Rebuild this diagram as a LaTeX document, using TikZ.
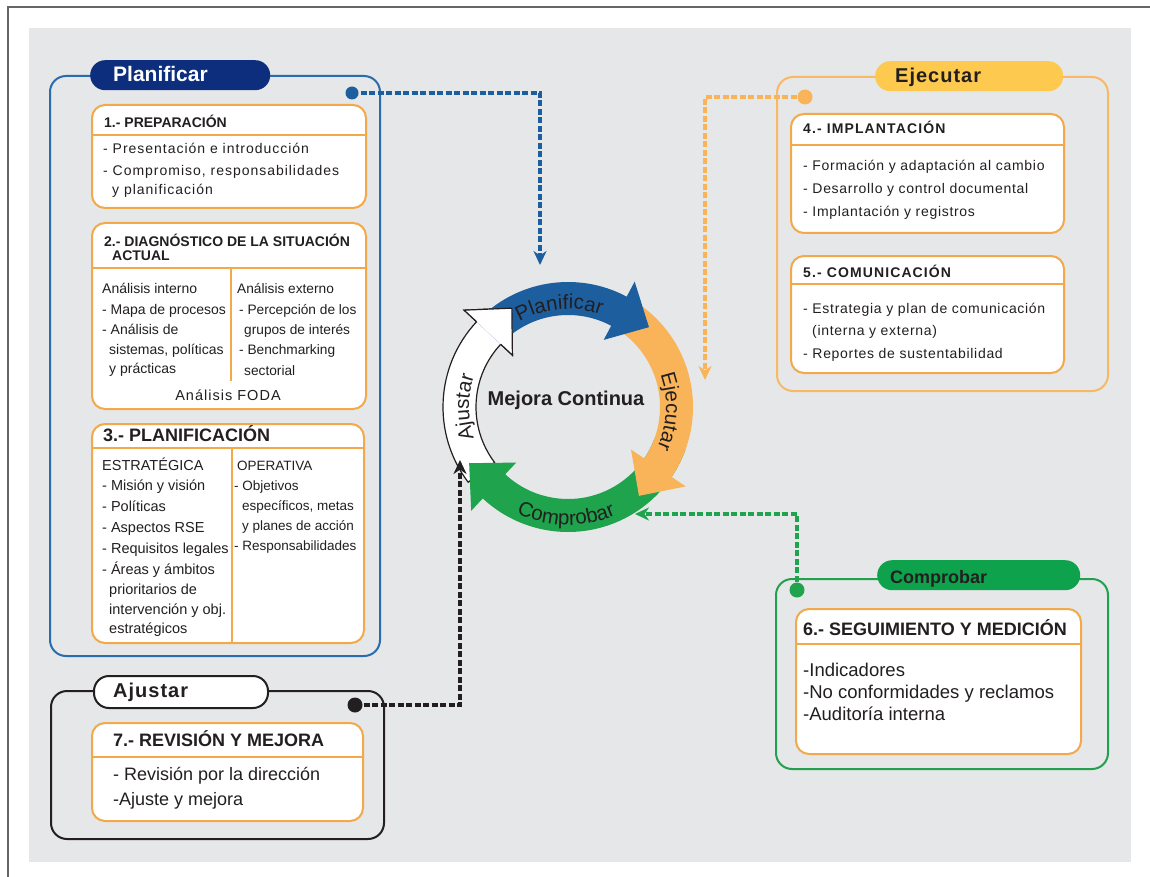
\documentclass[tikz,border=0pt]{standalone}
\usepackage{fontspec}
\setmainfont{Liberation Sans}
\newfontfamily\lspA[LetterSpace=7]{Liberation Sans}
\newfontfamily\lspB[LetterSpace=5]{Liberation Sans}
\newfontfamily\lspC[LetterSpace=8]{Liberation Sans}
\newfontfamily\arcfam[LetterSpace=10]{Liberation Sans}
\usetikzlibrary{arrows.meta,calc,decorations.text}
\newcommand{\fsz}[1]{\fontsize{#1}{#1}\selectfont}
\definecolor{bgc}{HTML}{E6E7E9}
\definecolor{framec}{HTML}{666666}
\definecolor{planblue}{HTML}{2A6DAE}
\definecolor{navy}{HTML}{0C2E7C}
\definecolor{cycblue}{HTML}{1D5E9E}
\definecolor{boxor}{HTML}{F3A84A}
\definecolor{ejor}{HTML}{F8B866}
\definecolor{ejpill}{HTML}{FDC94E}
\definecolor{cycor}{HTML}{F9B459}
\definecolor{grn}{HTML}{23A04D}
\definecolor{grnpill}{HTML}{0DA24B}
\definecolor{cycgrn}{HTML}{1FA34C}
\definecolor{txt}{HTML}{231F20}
\newcommand{\cycarrow}[3]{%
  \path[#3] (#1:125) arc[start angle=#1, end angle=#2, radius=125] -- (#2:142)
    -- ($(#2:108.5)+(#2-90:34)$) -- (#2:76) -- (#2:92)
    arc[start angle=#2, end angle=#1, radius=92] -- cycle;}
\begin{document}
\begin{tikzpicture}[x=1pt,y=1pt,
  bx/.style={draw=boxor, line width=2pt, fill=white, rounded corners=13pt, anchor=north west, inner sep=0pt},
  obx/.style={line width=2pt, rounded corners=16pt, anchor=north west, inner sep=0pt},
  pill/.style={rounded corners=15pt, anchor=north west, inner sep=0pt},
  tl/.style={anchor=base west, inner sep=0pt, text=txt},
  hdA/.style={tl, font=\bfseries\fsz{14}},
  hdB/.style={tl, font=\lspC\bfseries\fsz{14}},
  hdC/.style={tl, font=\bfseries\fsz{18}},
  bodyA/.style={tl, font=\lspA\fsz{14}},
  bodyB/.style={tl, font=\lspB\fsz{14}},
  colA/.style={tl, font=\fsz{14}},
  colB/.style={tl, font=\fsz{13.7}},
  colC/.style={tl, font=\fsz{14.5}},
  colD/.style={tl, font=\fsz{13.5}},
  bigbody/.style={tl, font=\fsz{18.5}},
  divl/.style={draw=boxor, line width=1.5pt},
  conn/.style={dash pattern=on 6pt off 2.5pt, -{Stealth[length=14pt,width=13pt,inset=4.5pt]}},
  arclab/.style={decorate, decoration={text along path, text align=center, text color=txt}}
]
\useasboundingbox (0,0) rectangle (1150,-877);
\fill[bgc] (29,-28) rectangle (1131,-862);
\draw[framec, line width=1.5pt] (8,-877) -- (8,-7) -- (1150,-7);

% ---------- Planificar group ----------
\node[obx, draw=planblue, minimum width=330pt, minimum height=580pt] (pbox) at (49,-75) {};
\node[pill, fill=navy, minimum width=180pt, minimum height=30pt] (ppill) at (90,-60) {};
\node[tl, text=white, font=\bfseries\fsz{21}] (ptitle) at (113,-82) {Planificar};

\node[bx, minimum width=274pt, minimum height=103pt] (b1) at (91,-104) {};
\draw[divl] (91,-135) -- (365,-135);
\node[hdA] (h1) at (104,-128) {1.- PREPARACIÓN};
\foreach \xx/\yy/\tx [count=\i] in {103/154/{- Presentación e introducción},
   103/176/{- Compromiso, responsabilidades}, 112/195/{y planificación}}
  \node[bodyA] (b1l\i) at (\xx,-\yy) {\tx};

\node[bx, minimum width=274pt, minimum height=186pt] (b2) at (91,-222) {};
\draw[divl] (91,-268) -- (365,-268);
\draw[divl] (231,-268) -- (231,-381);
\node[hdA] (h2a) at (104,-247) {2.- DIAGNÓSTICO DE LA SITUACIÓN};
\node[hdA] (h2b) at (112,-261) {ACTUAL};
\foreach \xx/\yy/\tx [count=\i] in {102/293/{Análisis interno}, 102/314/{- Mapa de procesos},
   102/334/{- Análisis de}, 109/354/{sistemas, políticas}, 109/373/{y prácticas}}
  \node[colA] (b2l\i) at (\xx,-\yy) {\tx};
\foreach \xx/\yy/\tx [count=\i] in {237/293/{Análisis externo}, 239/314/{- Percepción de los},
   244/334/{grupos de interés}, 239/354/{- Benchmarking}, 244/375/{sectorial}}
  \node[colB] (b2r\i) at (\xx,-\yy) {\tx};
\node[anchor=base, inner sep=0pt, text=txt, font=\lspA\fsz{14.5}] (foda) at (228,-400) {Análisis FODA};

\node[bx, minimum width=272pt, minimum height=219pt] (b3) at (91,-423) {};
\draw[divl] (91,-448) -- (365,-448);
\draw[divl] (232,-448) -- (232,-642);
\node[hdC] (h3) at (103,-441) {3.- PLANIFICACIÓN};
\foreach \xx/\yy/\tx [count=\i] in {102/470/{ESTRATÉGICA}, 102/490/{- Misión y visión},
   102/511/{- Políticas}, 102/532/{- Aspectos RSE}, 102/553/{- Requisitos legales},
   102/574/{- Áreas y ámbitos}, 109/594/{prioritarios de}, 109/614/{intervención y obj.},
   109/633/{estratégicos}}
  \node[colC] (b3l\i) at (\xx,-\yy) {\tx};
\foreach \xx/\yy/\tx [count=\i] in {237/470/{OPERATIVA}, 234/490/{- Objetivos},
   242/510/{específicos, metas}, 242/530/{y planes de acción}, 234/550/{- Responsabilidades}}
  \node[colD] (b3r\i) at (\xx,-\yy) {\tx};

% ---------- Ejecutar group ----------
\node[obx, draw=ejor, minimum width=331pt, minimum height=314pt] (ebox) at (776,-76) {};
\node[pill, fill=ejpill, minimum width=188pt, minimum height=30pt] (epill) at (875,-61) {};
\node[tl, font=\lspB\bfseries\fsz{20}] (etitle) at (895,-83) {Ejecutar};

\node[bx, minimum width=273pt, minimum height=119pt] (b4) at (790,-113) {};
\draw[divl] (790,-145) -- (1063,-145);
\node[hdB] (h4) at (803,-134) {4.- IMPLANTACIÓN};
\foreach \xx/\yy/\tx [count=\i] in {803/171/{- Formación y adaptación al cambio},
   803/194/{- Desarrollo y control documental}, 803/217/{- Implantación y registros}}
  \node[bodyB] (b4l\i) at (\xx,-\yy) {\tx};

\node[bx, minimum width=273pt, minimum height=117pt] (b5) at (790,-255) {};
\draw[divl] (790,-284) -- (1063,-284);
\node[hdB] (h5) at (803,-277) {5.- COMUNICACIÓN};
\foreach \xx/\yy/\tx [count=\i] in {803/313/{- Estrategia y plan de comunicación},
   812/335/{(interna y externa)}, 803/358/{- Reportes de sustentabilidad}}
  \node[bodyB] (b5l\i) at (\xx,-\yy) {\tx};

% ---------- Comprobar group ----------
\node[obx, draw=grn, minimum width=332pt, minimum height=190pt] (cbox) at (775,-578) {};
\node[pill, fill=grnpill, minimum width=203pt, minimum height=30pt] (cpill) at (877,-560) {};
\node[tl, font=\bfseries\fsz{18}] (ctitle) at (890,-583) {Comprobar};

\node[bx, minimum width=285pt, minimum height=145pt] (b6) at (795,-608) {};
\draw[divl] (795,-644) -- (1082,-644);
\node[hdC] (h6) at (803,-635) {6.- SEGUIMIENTO Y MEDICIÓN};
\foreach \xx/\yy/\tx [count=\i] in {803/676/{-Indicadores},
   803/698/{-No conformidades y reclamos}, 803/720/{-Auditoría interna}}
  \node[bigbody] (b6l\i) at (\xx,-\yy) {\tx};

% ---------- Ajustar group ----------
\node[obx, draw=txt, minimum width=333pt, minimum height=148pt] (abox) at (50,-690) {};
\node[pill, fill=white, draw=txt, line width=2pt, minimum width=174pt, minimum height=32pt] (apill) at (93,-675) {};
\node[tl, font=\lspB\bfseries\fsz{20}] (atitle) at (113,-697) {Ajustar};

\node[bx, minimum width=271pt, minimum height=98pt] (b7) at (91,-722) {};
\draw[divl] (91,-757) -- (362,-757);
\node[hdC] (h7) at (113,-746) {7.- REVISIÓN Y MEJORA};
\foreach \xx/\yy/\tx [count=\i] in {113/780/{- Revisión por la dirección}, 113/805/{-Ajuste y mejora}}
  \node[tl, font=\fsz{18}] (b7l\i) at (\xx,-\yy) {\tx};

% ---------- Cycle ----------
\begin{scope}[shift={(568,-407)}]
  \cycarrow{217}{137}{fill=white, draw=txt, line width=1.2pt, line join=miter}
  \cycarrow{-20}{-133}{fill=cycgrn}
  \cycarrow{60}{-34}{fill=cycor}
  \cycarrow{137}{62}{fill=cycblue}
  \fill[white] (137:92) -- (137:76) -- ($(137:108.5)+(47:34)$) -- (137:142) -- (137:125) -- cycle;
  \draw[txt, line width=1.2pt, line join=miter] (137:92) -- (137:76) -- ($(137:108.5)+(47:34)$) -- (137:142) -- (137:125);
  \path[arclab, decoration={text={|\arcfam\fsz{20.5}|Planificar}}] (155:98) arc[start angle=155, end angle=35, radius=98];
  \path[arclab, decoration={text={|\arcfam\fsz{20.5}|Ejecutar}}] (50:98) arc[start angle=50, end angle=-55, radius=98];
  \path[arclab, decoration={text={|\arcfam\fsz{20.5}|Comprobar}}] (-145:118) arc[start angle=-145, end angle=-37, radius=118];
  \path[arclab, decoration={text={|\arcfam\fsz{20.5}|Ajustar}}] (230:99) arc[start angle=230, end angle=130, radius=99];
  \node[font=\bfseries\fsz{20}, text=txt, inner sep=0pt] (mc) at (-2,7) {Mejora Continua};
\end{scope}

% ---------- Connectors ----------
\coordinate (bdot) at (352,-93);  \coordinate (bend) at (540,-265);
\coordinate (odot) at (805,-97);  \coordinate (oend) at (705,-380);
\coordinate (gdot) at (797,-590); \coordinate (gend) at (635,-514);
\coordinate (kdot) at (355,-705); \coordinate (kend) at (460,-460);
\draw[conn, draw=cycblue, line width=3.4pt] (bdot) -| (bend);
\fill[cycblue] (bdot) circle (6.5);
\draw[conn, draw=cycor, line width=3.4pt] (odot) -| (oend);
\fill[cycor] (odot) circle (7.5);
\draw[conn, draw=cycgrn, line width=3.4pt] (gdot) |- (gend);
\fill[cycgrn] (gdot) circle (7.5);
\draw[conn, draw=txt, line width=4pt] (kdot) -| (kend);
\fill[txt] (kdot) circle (7.5);
\end{tikzpicture}
\end{document}
